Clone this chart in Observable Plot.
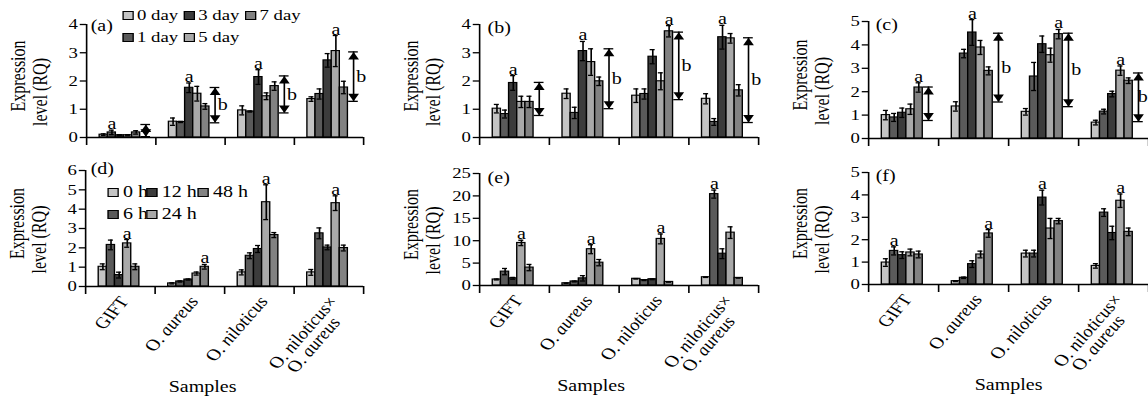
<!DOCTYPE html>
<html><head><meta charset="utf-8">
<script src="https://cdn.jsdelivr.net/npm/d3@7"></script>
<script src="https://cdn.jsdelivr.net/npm/@observablehq/plot@0.6"></script>
<style>
html,body{margin:0;padding:0;background:#fff;overflow:hidden;width:1148px;height:397px;}
#wrap{position:relative;width:918.4px;height:397px;transform:scaleX(1.25);transform-origin:0 0;font-family:"Liberation Serif","Times New Roman",serif;color:#000;}
.panel{position:absolute;}
.legend{position:absolute;line-height:22px;}
.legend .row{display:flex;white-space:nowrap;}
.legend .item{display:flex;align-items:center;}
.sw{width:7px;height:7px;border:1px solid #000;margin-right:3px;flex:none;}
</style></head><body><div id="wrap"></div>
<script>
const S = 1.25; // horizontal stretch of the reference figure

const samples = ["GIFT", "O. aureus", "O. niloticus", "O. niloticus×O. aureus"];
const sampleLines = [["GIFT"], ["O. aureus"], ["O. niloticus"], ["O. niloticus×", "O. aureus"]];
const daySeries = ["0 day", "1 day", "3 day", "5 day", "7 day"];
const hourSeries = ["0 h", "6 h", "12 h", "24 h", "48 h"];
const shades = ["#c4c4c4", "#5a5a5a", "#3c3c3c", "#a9a9a9", "#828282"];

// (a)
const aMean = [[0.10,0.18,0.08,0.08,0.18],[0.56,0.55,1.76,1.55,1.10],[0.96,0.92,2.14,1.46,1.82],[1.36,1.54,2.73,3.06,1.77]];
const aErr  = [[0.03,0.08,0.02,0.02,0.06],[0.13,0.02,0.17,0.26,0.10],[0.16,0.02,0.26,0.12,0.15],[0.08,0.18,0.24,0.55,0.22]];
const aSig = [1,2,2,3];
const aBracket = [[0.03,0.46,""],[0.52,1.77,"b"],[0.87,2.18,"b"],[1.28,3.03,"b"]];
const aTicks = [0,1,2,3,4];
// (b)
const bMean = [[1.02,0.83,1.93,1.26,1.26],[1.55,0.87,3.06,2.67,1.99],[1.48,1.54,2.86,1.99,3.76],[1.37,0.55,3.55,3.51,1.67]];
const bErr  = [[0.15,0.14,0.26,0.20,0.20],[0.17,0.20,0.34,0.47,0.15],[0.24,0.18,0.25,0.30,0.20],[0.18,0.12,0.42,0.17,0.20]];
const bSig = [2,2,4,2];
const bBracket = [[0.78,1.95,""],[1.02,3.14,"b"],[1.34,3.73,"b"],[0.53,3.53,"b"]];
const bTicks = [0,1,2,3,4];
// (c)
const cMean = [[1.00,0.90,1.10,1.25,2.18],[1.37,3.63,4.53,3.89,2.89],[1.14,2.65,4.03,3.56,4.46],[0.68,1.15,1.90,2.90,2.47]];
const cErr  = [[0.20,0.17,0.20,0.22,0.20],[0.20,0.18,0.55,0.30,0.17],[0.14,0.60,0.35,0.30,0.20],[0.10,0.10,0.12,0.20,0.12]];
const cSig = [4,2,4,3];
const cBracket = [[0.77,2.20,""],[1.56,4.50,"b"],[1.36,4.50,"b"],[0.72,2.80,"b"]];
const cTicks = [0,1,2,3,4,5];
// (d)
const dMean = [[1.02,2.15,0.59,2.23,1.02],[0.16,0.26,0.36,0.67,1.02],[0.73,1.59,1.94,4.36,2.66],[0.73,2.75,2.02,4.31,1.99]];
const dErr  = [[0.15,0.25,0.15,0.20,0.15],[0.03,0.03,0.03,0.08,0.12],[0.13,0.15,0.18,0.90,0.13],[0.15,0.28,0.12,0.38,0.15]];
const dSig = [3,4,3,3];
const dTicks = [0,1,2,3,4,5,6];
// (e)
const eMean = [[1.34,3.1,1.6,9.5,4.0],[0.5,0.9,1.6,8.1,5.1],[1.5,1.2,1.4,10.4,0.8],[1.85,20.4,7.1,11.8,1.7]];
const eErr  = [[0.10,0.7,0.2,0.6,0.7],[0.05,0.1,0.6,1.0,0.7],[0.05,0.1,0.1,1.1,0.05],[0.05,0.9,1.1,1.3,0.05]];
const eSig = [3,3,3,1];
const eTicks = [0,5,10,15,20,25];
// (f)
const fMean = [[0.98,1.50,1.31,1.43,1.34],[0.15,0.30,0.91,1.34,2.28],[1.38,1.38,3.88,2.50,2.83],[0.83,3.21,2.30,3.74,2.35]];
const fErr  = [[0.17,0.18,0.15,0.15,0.15],[0.02,0.03,0.15,0.15,0.17],[0.15,0.15,0.33,0.45,0.12],[0.10,0.17,0.30,0.30,0.17]];
const fSig = [1,4,2,3];
const fTicks = [0,1,2,3,4,5];

const START = 0.19, BW = 0.117, CAP = 0.036, BX = 0.855, BCAP = 0.07, BL = 0.965;
const wrap = document.getElementById("wrap");

function panel(o) {
  const rows = [];
  samples.forEach((s, i) => o.series.forEach((se, j) => rows.push({i, j, sample: s, series: se, v: o.mean[i][j], e: o.err[i][j]})));
  const left = d => d.i + START + d.j * BW;
  const mid = d => left(d) + BW / 2;
  const sig = o.sig.map((j, i) => rows.find(r => r.i === i && r.j === j));
  const br = (o.bracket || []).map(([lo, hi, t], i) => ({i, lo, hi, t}));
  const labelX = d => d.i + ((o.lastLabel != null && d.i === 3) ? o.lastLabel : BL);
  const mt = o.yTop - o.top, mb = o.top + o.h - o.yBot;
  const ml = (o.axL - o.left) / S, mr = (o.left + o.w - o.axR) / S;
  const marks = [
    Plot.rect(rows, {x1: left, x2: d => left(d) + BW, y1: 0, y2: "v", fill: "series", stroke: "#000", strokeWidth: 1.1}),
    Plot.ruleX(rows, {x: mid, y1: d => Math.max(0, d.v - d.e), y2: d => d.v + d.e, stroke: "#000", strokeWidth: 1.3}),
    Plot.ruleY(rows, {y: d => d.v + d.e, x1: d => mid(d) - CAP, x2: d => mid(d) + CAP, stroke: "#000", strokeWidth: 1.3}),
    Plot.ruleY(rows.filter(d => d.v - d.e > 0), {y: d => d.v - d.e, x1: d => mid(d) - CAP, x2: d => mid(d) + CAP, stroke: "#000", strokeWidth: 1.3}),
    Plot.text(sig, {x: mid, y: d => d.v + d.e, text: () => "a", lineAnchor: "bottom", dy: -1, fontSize: 16}),
    Plot.ruleX(br, {x: d => d.i + BX, y1: "lo", y2: "hi", stroke: "#000", strokeWidth: 1.3}),
    Plot.ruleY(br, {y: "hi", x1: d => d.i + BX - BCAP, x2: d => d.i + BX + BCAP, stroke: "#000", strokeWidth: 1.3}),
    Plot.ruleY(br, {y: "lo", x1: d => d.i + BX - BCAP, x2: d => d.i + BX + BCAP, stroke: "#000", strokeWidth: 1.3}),
    Plot.dot(br, {x: d => d.i + BX, y: "hi", symbol: "triangle", r: 3.2, fill: "#000", stroke: "none", dy: 5}),
    Plot.dot(br, {x: d => d.i + BX, y: "lo", symbol: "triangle", r: 3.2, fill: "#000", stroke: "none", rotate: 180, dy: -5}),
    Plot.text(br, {x: labelX, y: d => (d.lo + d.hi) / 2, text: "t", fontSize: 16}),
    Plot.ruleX([0], {stroke: "#000", strokeWidth: 1.3}),
    Plot.ruleY([0], {stroke: "#000", strokeWidth: 1.3}),
    Plot.axisY({ticks: o.ticks, tickSize: 5, tickPadding: 2, fontSize: 15, tickFormat: d => String(d), strokeWidth: 1.3}),
    Plot.axisX({ticks: [0, 1, 2, 3, 4], tickSize: 8, tickFormat: () => "", strokeWidth: 1.3}),
    Plot.text([o.tag], {text: d => d, frameAnchor: "top-left", textAnchor: "start", lineAnchor: "middle", dx: o.tagDx / S, dy: o.tagDy, fontSize: 16}),
    Plot.text(["Expression"], {text: d => d, frameAnchor: "left", rotate: -90, textAnchor: "middle", lineAnchor: "middle", dx: -68 / S, dy: -5, fontSize: 16}),
    Plot.text(["level (RQ)"], {text: d => d, frameAnchor: "left", rotate: -90, textAnchor: "middle", lineAnchor: "middle", dx: -46 / S, dy: 11, fontSize: 16})
  ];
  if (o.xLabels) {
    const l1 = sampleLines.map((l, i) => ({i, t: l[0]}));
    const l2 = sampleLines.map((l, i) => ({i, t: l[1]})).filter(d => d.t);
    marks.push(
      Plot.text(l1, {x: d => d.i + 0.5, text: "t", frameAnchor: "bottom", rotate: -55, textAnchor: "end", lineAnchor: "middle", dx: 4 / S, dy: 12, fontSize: 16}),
      Plot.text(l2, {x: d => d.i + 0.5, text: "t", frameAnchor: "bottom", rotate: -55, textAnchor: "end", lineAnchor: "middle", dx: 7 / S, dy: 33, fontSize: 16}),
      Plot.text(["Samples"], {text: d => d, frameAnchor: "bottom", textAnchor: "middle", lineAnchor: "middle", dx: o.samplesDx / S, dy: 100, fontSize: 16})
    );
  }
  const svg = Plot.plot({
    width: o.w / S, height: o.h,
    marginLeft: ml, marginRight: mr, marginTop: mt, marginBottom: mb,
    x: {domain: [0, 4], axis: null},
    y: {domain: [0, o.ticks[o.ticks.length - 1]], axis: null},
    color: {domain: o.series, range: shades},
    style: {fontFamily: "\"Liberation Serif\", \"Times New Roman\", serif", fontSize: "15px", background: "transparent", overflow: "visible", maxWidth: "none", color: "#000"},
    marks
  });
  // species names: genus abbreviation upright, epithet italic
  svg.querySelectorAll("text").forEach(t => {
    const s = t.textContent;
    if (t.children.length === 0 && s.startsWith("O. ")) {
      const ns = "http://www.w3.org/2000/svg";
      const rest = s.slice(3);
      const m = rest.match(/^([a-z]+)(.*)$/);
      t.textContent = "";
      const a = document.createElementNS(ns, "tspan"); a.textContent = "O. "; t.appendChild(a);
      const b = document.createElementNS(ns, "tspan"); b.textContent = m ? m[1] : rest; b.setAttribute("font-style", "italic"); t.appendChild(b);
      if (m && m[2]) { const c = document.createElementNS(ns, "tspan"); c.textContent = m[2]; t.appendChild(c); }
    }
  });
  const div = document.createElement("div");
  div.className = "panel";
  div.style.left = (o.left / S) + "px";
  div.style.top = o.top + "px";
  div.appendChild(svg);
  wrap.appendChild(div);
}

function legend(cols, left, top, fontSize, widths) {
  const div = document.createElement("div");
  div.className = "legend";
  div.style.left = left + "px"; div.style.top = top + "px"; div.style.fontSize = fontSize + "px";
  cols.forEach(row => {
    const r = document.createElement("div"); r.className = "row";
    row.forEach((it, k) => {
      const item = document.createElement("div"); item.className = "item";
      item.style.width = widths[k] + "px";
      const sw = document.createElement("div"); sw.className = "sw"; sw.style.background = it.color;
      const tx = document.createElement("span"); tx.textContent = it.label;
      item.appendChild(sw); item.appendChild(tx); r.appendChild(item);
    });
    div.appendChild(r);
  });
  wrap.appendChild(div);
}

const top1 = {top: 0, h: 150}, top2 = {top: 145, h: 252};
panel({...top1, left: 0, w: 380, axL: 86, axR: 363, yTop: 24, yBot: 137, series: daySeries, mean: aMean, err: aErr, sig: aSig, bracket: aBracket, ticks: aTicks, tag: "(a)", tagDx: 4, tagDy: 1});
panel({...top1, left: 380, w: 380, axL: 479, axR: 758, yTop: 24, yBot: 137, series: daySeries, mean: bMean, err: bErr, sig: bSig, bracket: bBracket, ticks: bTicks, tag: "(b)", tagDx: 8, tagDy: 3});
panel({...top1, left: 760, w: 420, axL: 868, axR: 1148, yTop: 21, yBot: 138, series: daySeries, mean: cMean, err: cErr, sig: cSig, bracket: cBracket, ticks: cTicks, tag: "(c)", tagDx: 7, tagDy: 3, lastLabel: 0.915});
panel({...top2, left: 0, w: 380, axL: 85, axR: 363, yTop: 170, yBot: 286, series: hourSeries, mean: dMean, err: dErr, sig: dSig, ticks: dTicks, tag: "(d)", tagDx: 5, tagDy: -1.5, xLabels: true, samplesDx: -22});
panel({...top2, left: 380, w: 380, axL: 479, axR: 758, yTop: 173, yBot: 285, series: hourSeries, mean: eMean, err: eErr, sig: eSig, ticks: eTicks, tag: "(e)", tagDx: 8, tagDy: 4, xLabels: true, samplesDx: -28});
panel({...top2, left: 760, w: 420, axL: 868, axR: 1148, yTop: 172, yBot: 284, series: hourSeries, mean: fMean, err: fErr, sig: fSig, ticks: fTicks, tag: "(f)", tagDx: 7, tagDy: 3, xLabels: true, samplesDx: 0});

const dayColor = d => shades[daySeries.indexOf(d)];
const hourColor = d => shades[hourSeries.indexOf(d)];
legend([["0 day", "3 day", "7 day"], ["1 day", "5 day"]].map(r => r.map(l => ({label: l, color: dayColor(l)}))), 97.6, 4, 15, [49, 49, 49]);
legend([["0 h", "12 h", "48 h"], ["6 h", "24 h"]].map(r => r.map(l => ({label: l, color: hourColor(l)}))), 86.4, 181, 16, [31, 41, 40]);
</script></body></html>
